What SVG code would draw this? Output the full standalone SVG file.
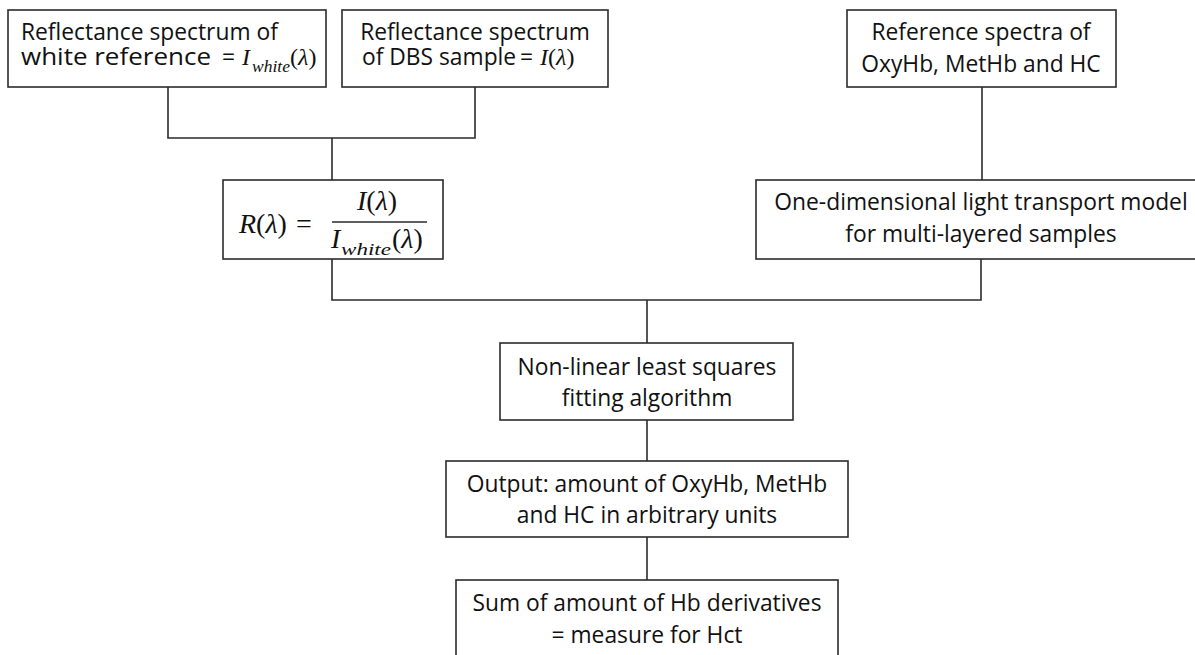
<svg xmlns="http://www.w3.org/2000/svg" width="1195" height="655" viewBox="0 0 1195 655">
  <style>
    .box { fill: #ffffff; stroke: #2b2b2b; stroke-width: 1.6; }
    .wire { fill: none; stroke: #2b2b2b; stroke-width: 1.6; }
    .t { font-family: "Open Sans", "Noto Sans", sans-serif; font-size: 22.8px; fill: #111111; }
    .c { text-anchor: middle; }
    .m { font-family: "Liberation Serif", "DejaVu Serif", serif; font-size: 24px; fill: #111111; }
    .big { font-size: 28px; }
    .mi { font-style: italic; }
    .sub { font-family: "Liberation Serif", "DejaVu Serif", serif; font-style: italic; font-size: 17px; fill: #111111; }
  </style>
  <rect width="1195" height="655" fill="#ffffff"/>

  <!-- connectors -->
  <g id="connectors">
    <path class="wire" d="M168 87 V138 H475 V87"/>
    <path class="wire" d="M332 138 V180"/>
    <path class="wire" d="M982 87 V180"/>
    <path class="wire" d="M332 259 V300 H981 V259"/>
    <path class="wire" d="M647 300 V343"/>
    <path class="wire" d="M647 420 V461"/>
    <path class="wire" d="M647 537 V580"/>
  </g>

  <!-- white reference spectrum -->
  <g id="white-reference">
    <rect class="box" x="8" y="10" width="318" height="77"/>
    <text class="t" x="21" y="40">Reflectance spectrum of</text>
    <text class="t" x="21" y="65" textLength="190" lengthAdjust="spacingAndGlyphs">white reference</text>
    <text class="t" x="222" y="65">=</text>
    <text class="m mi" x="242" y="65">I</text>
    <text class="sub" x="252" y="72" textLength="38" lengthAdjust="spacingAndGlyphs">white</text>
    <text class="m" x="290" y="65">(<tspan class="mi">λ</tspan>)</text>
  </g>

  <!-- DBS sample spectrum -->
  <g id="dbs-sample">
    <rect class="box" x="342" y="10" width="266" height="77"/>
    <text class="t c" x="475" y="40">Reflectance spectrum</text>
    <text class="t" x="362" y="65">of DBS sample</text>
    <text class="t" x="520" y="65">=</text>
    <text class="m" x="540" y="65"><tspan class="mi">I</tspan>(<tspan class="mi">λ</tspan>)</text>
  </g>

  <!-- reference spectra -->
  <g id="reference-spectra">
    <rect class="box" x="847" y="10" width="269" height="77"/>
    <text class="t c" x="981" y="40">Reference spectra of</text>
    <text class="t c" x="981" y="72">OxyHb, MetHb and HC</text>
  </g>

  <!-- reflectance ratio -->
  <g id="reflectance-ratio">
    <rect class="box" x="223" y="180" width="220" height="79"/>
    <text class="m big" x="239" y="233"><tspan class="mi">R</tspan>(<tspan class="mi">λ</tspan>)</text>
    <text class="m big" x="296" y="233">=</text>
    <text class="m big" x="357" y="210"><tspan class="mi">I</tspan>(<tspan class="mi">λ</tspan>)</text>
    <line class="wire" x1="332" y1="222" x2="427" y2="222"/>
    <text class="m big mi" x="331" y="248">I</text>
    <text class="sub" x="341" y="255" font-size="21" textLength="50" lengthAdjust="spacingAndGlyphs">white</text>
    <text class="m big" x="392" y="248">(<tspan class="mi">λ</tspan>)</text>
  </g>

  <!-- light transport model -->
  <g id="transport-model">
    <rect class="box" x="756" y="180" width="450" height="79"/>
    <text class="t c" x="981" y="210">One-dimensional light transport model</text>
    <text class="t c" x="981" y="242">for multi-layered samples</text>
  </g>

  <!-- fitting -->
  <g id="fitting">
    <rect class="box" x="500" y="343" width="293" height="77"/>
    <text class="t c" x="647" y="375">Non-linear least squares</text>
    <text class="t c" x="647" y="406">fitting algorithm</text>
  </g>

  <!-- output -->
  <g id="output">
    <rect class="box" x="446" y="461" width="402" height="76"/>
    <text class="t c" x="647" y="492">Output: amount of OxyHb, MetHb</text>
    <text class="t c" x="647" y="523">and HC in arbitrary units</text>
  </g>

  <!-- hematocrit measure -->
  <g id="hct-measure">
    <rect class="box" x="456" y="580" width="382" height="90"/>
    <text class="t c" x="647" y="611">Sum of amount of Hb derivatives</text>
    <text class="t c" x="647" y="643">= measure for Hct</text>
  </g>
</svg>
